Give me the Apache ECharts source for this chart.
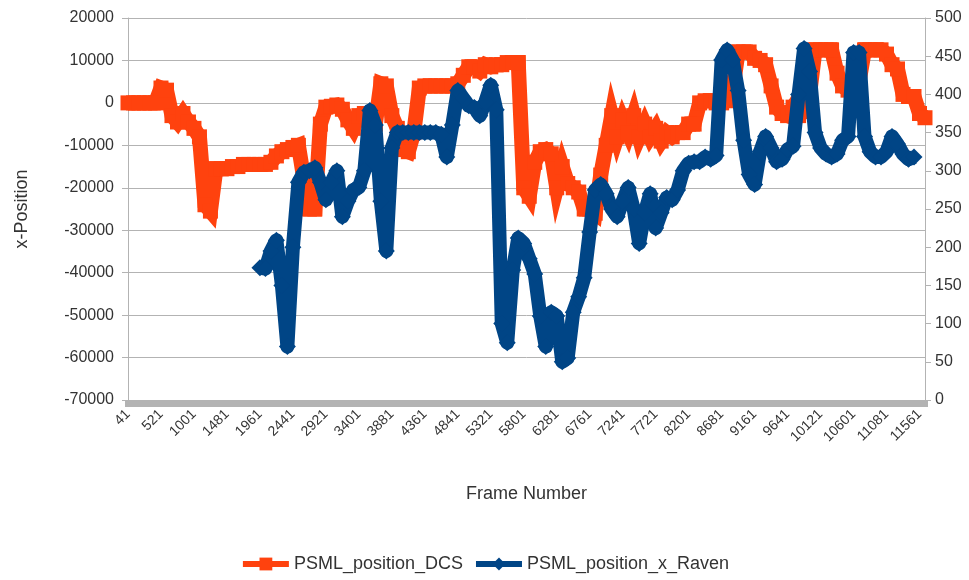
<!DOCTYPE html>
<html>
<head>
<meta charset="utf-8">
<script src="https://cdn.jsdelivr.net/npm/echarts@6/dist/echarts.min.js"></script>
<style>html,body{margin:0;padding:0;background:#fff}#c{width:969px;height:580px}</style>
</head>
<body>
<div id="c"></div>
<script>
// Frame numbers: sampled every 80 frames starting at 41
const frameStart = 41;
const frameStep = 80;
const frameCount = 146;
const frames = [];
for (let i = 0; i < frameCount; i++) frames.push(String(frameStart + i * frameStep));

const leftTicks = { min: -70000, max: 20000, interval: 10000 };
const rightTicks = { min: 0, max: 500, interval: 50 };

// PSML_position_DCS (left axis)
const dcs = [
  0, 0, 0, 0, 0, 0, 3500, 3000, -3000, -4500,
  -2500, -4500, -6000, -8000, -24000, -25500, -15500, -15500, -15500, -15000,
  -15000, -14500, -14500, -14500, -14500, -14500, -14000, -12500, -11500, -11000,
  -10500, -10000, -18000, -25000, -25000, -5000, -1000, -800, -500, -1500,
  -4000, -6000, -3000, -2500, -2500, -5000, 4500, 4000, -3000, -6000,
  -11000, -11500, -7000, 3500, 4000, 4000, 4000, 4000, 4000, 4000,
  4500, 6500, 8500, 8500, 7500, 9000, 8500, 9000, 9000, 9500,
  9500, 9500, -20000, -22000, -14000, -11500, -11000, -12000, -20000, -15000,
  -19000, -20000, -21000, -25000, -25000, -26000, -17000, -10000, -3000, -8000,
  -4000, -7000, -3000, -8000, -5000, -8000, -6000, -9000, -7000, -8000,
  -7000, -7000, -5000, -5000, 0, 500, 500, 0, 0, 500,
  3000, 12000, 12000, 12000, 10500, 10000, 9000, 4000, -1000, -2500,
  -3000, -1000, -3000, -2000, 2000, 12500, 12500, 12500, 12500, 7000,
  4000, 3000, 3000, 5000, 12500, 12500, 12500, 12500, 11500, 9000,
  8000, 2000, 1500, 1500, -2500, -3500
];

// PSML_position_x_Raven (right axis)
const raven = [
  null, null, null, null, null, null, null, null, null, null,
  null, null, null, null, null, null, null, null, null, null,
  null, null, null, null, 173, 172, 195, 209, 150, 70,
  200, 285, 298, 300, 304, 285, 262, 285, 300, 240,
  260, 275, 278, 300, 379, 360, 260, 195, 330, 350,
  350, 350, 350, 350, 350, 350, 350, 348, 318, 360,
  405, 395, 385, 383, 372, 390, 412, 380, 100, 75,
  170, 212, 205, 185, 165, 110, 70, 115, 110, 50,
  55, 115, 135, 160, 220, 275, 282, 270, 250, 240,
  260, 278, 250, 205, 245, 270, 225, 245, 265, 262,
  275, 300, 310, 312, 312, 318, 315, 320, 445, 458,
  445, 405, 340, 295, 282, 325, 345, 330, 312, 315,
  328, 332, 400, 460, 430, 350, 330, 322, 318, 322,
  340, 345, 455, 455, 345, 325, 318, 318, 325, 345,
  335, 322, 315, 318, null, null
];

const ORANGE = '#ff420e';
const BLUE = '#004586';
const GRID = '#b3b3b3';
const TXT = '#333333';
const FONT = 'Liberation Sans';

const chart = echarts.init(document.getElementById('c'), null, { renderer: 'canvas' });
chart.setOption({
  animation: false,
  backgroundColor: '#ffffff',
  textStyle: { fontFamily: FONT, color: TXT },
  grid: { left: 128, right: 44, top: 18, bottom: 180, containLabel: false },
  legend: {
    bottom: 2,
    left: 'center',
    itemWidth: 46,
    itemHeight: 16,
    itemGap: 10,
    lineStyle: { width: 6 },
    textStyle: { fontFamily: FONT, fontSize: 18, color: TXT },
    data: ['PSML_position_DCS', 'PSML_position_x_Raven']
  },
  xAxis: {
    type: 'category',
    data: frames,
    boundaryGap: false,
    name: 'Frame Number',
    nameLocation: 'middle',
    nameGap: 85,
    nameTextStyle: { fontFamily: FONT, fontSize: 18, color: TXT },
    axisLine: { show: true, onZero: false, lineStyle: { color: GRID, width: 1 } },
    axisTick: { show: true, interval: 0, length: 7, inside: false, lineStyle: { color: GRID, width: 6 } },
    axisLabel: { interval: 5, rotate: 45, fontSize: 14, color: TXT, fontFamily: FONT, margin: 12 },
    splitLine: { show: false }
  },
  yAxis: [
    {
      type: 'value',
      position: 'left',
      min: leftTicks.min, max: leftTicks.max, interval: leftTicks.interval,
      name: 'x-Position',
      nameLocation: 'middle',
      nameRotate: 90,
      nameGap: 97,
      nameTextStyle: { fontFamily: FONT, fontSize: 18, color: TXT },
      axisLine: { show: true, lineStyle: { color: GRID, width: 1 } },
      axisTick: { show: true, length: 6, lineStyle: { color: GRID } },
      axisLabel: { fontSize: 16, color: TXT, fontFamily: FONT, margin: 14, formatter: v => String(v) },
      splitLine: { show: true, lineStyle: { color: GRID, width: 1 } }
    },
    {
      type: 'value',
      position: 'right',
      min: rightTicks.min, max: rightTicks.max, interval: rightTicks.interval,
      axisLine: { show: true, lineStyle: { color: GRID, width: 1 } },
      axisTick: { show: true, length: 6, lineStyle: { color: GRID } },
      axisLabel: { fontSize: 16, color: TXT, fontFamily: FONT, margin: 10, formatter: v => String(v) },
      splitLine: { show: false }
    }
  ],
  series: [
    {
      name: 'PSML_position_DCS',
      type: 'line',
      yAxisIndex: 0,
      data: dcs,
      symbol: 'rect',
      symbolSize: 15,
      showAllSymbol: true,
      lineStyle: { color: ORANGE, width: 15, join: 'miter' },
      itemStyle: { color: ORANGE },
      z: 2
    },
    {
      name: 'PSML_position_x_Raven',
      type: 'line',
      yAxisIndex: 1,
      data: raven,
      symbol: 'diamond',
      symbolSize: 17,
      showAllSymbol: true,
      connectNulls: false,
      lineStyle: { color: BLUE, width: 14, join: 'round' },
      itemStyle: { color: BLUE },
      z: 3
    }
  ]
});
</script>
</body>
</html>
